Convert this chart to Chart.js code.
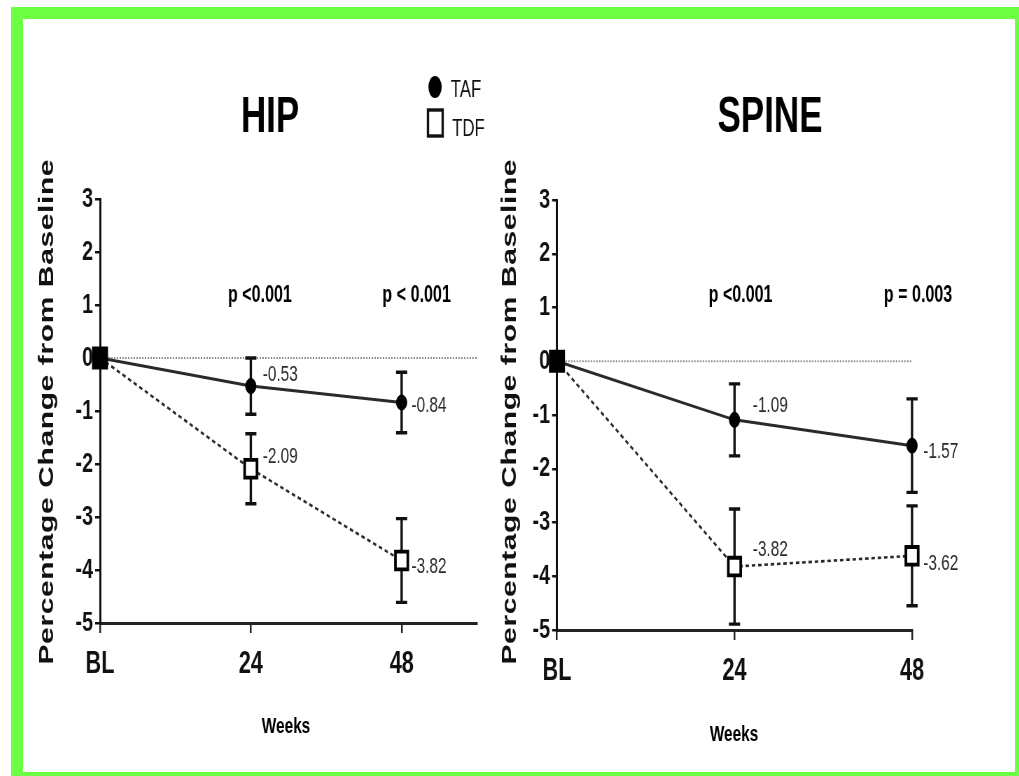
<!DOCTYPE html>
<html><head><meta charset="utf-8">
<script src="https://cdn.jsdelivr.net/npm/chart.js@4.4.1/dist/chart.umd.min.js"></script>
<style>
html,body{margin:0;padding:0;background:#fff;overflow:hidden;width:1019px;height:776px;}
canvas{position:absolute;top:0;transform-origin:0 0;transform:scaleX(0.7);}
#frame{position:absolute;left:11px;top:7px;width:992px;height:753px;border:12px solid #6cff44;pointer-events:none;z-index:5}
</style></head><body>
<canvas id="hip" width="674" height="776" style="left:23px"></canvas>
<canvas id="spine" width="750" height="776" style="left:490px"></canvas>
<div id="frame"></div>
<script>
// ---- data ----
const weeks = [0, 24, 48];
const xTickLabels = ['BL', '24', '48'];
const yTicks = [-5, -4, -3, -2, -1, 0, 1, 2, 3];
const seriesNames = ['TAF', 'TDF'];
const hipTAF = [0, -0.53, -0.84];
const hipTAFerr = [0, 0.53, 0.57];
const hipTDF = [0, -2.09, -3.82];
const hipTDFerr = [0, 0.66, 0.79];
const spineTAF = [0, -1.09, -1.57];
const spineTAFerr = [0, 0.67, 0.87];
const spineTDF = [0, -3.82, -3.62];
const spineTDFerr = [0, 1.07, 0.93];
const hipP = ['p <0.001', 'p < 0.001'];
const spineP = ['p <0.001', 'p = 0.003'];
const yTitle = 'Percentage Change from Baseline';
const xTitle = 'Weeks';

const NARROW = '"Liberation Sans Narrow", "Liberation Sans", Arial, sans-serif';
const SANS = '"Liberation Sans", Arial, sans-serif';

function txt(ctx, s, x, y, font, align, base, color, spacing) {
  ctx.save();
  ctx.font = font; ctx.textAlign = align; ctx.textBaseline = base;
  ctx.fillStyle = color || '#111';
  if (spacing !== undefined) ctx.letterSpacing = spacing + 'px';
  ctx.fillText(s, x, y);
  ctx.restore();
}

const panelPlugin = {
  id: 'panel',
  beforeDatasetsDraw(chart) {
    const ctx = chart.ctx, xs = chart.scales.x, ys = chart.scales.y, a = chart.chartArea;
    const y0 = ys.getPixelForValue(0);
    ctx.save();
    ctx.strokeStyle = '#8a8a8a'; ctx.lineWidth = 2; ctx.setLineDash([2, 2]);
    ctx.beginPath(); ctx.moveTo(a.left, y0); ctx.lineTo(a.right, y0); ctx.stroke();
    ctx.restore();
    ctx.save();
    ctx.strokeStyle = '#111'; ctx.lineWidth = 3.4;
    chart.data.datasets.forEach(ds => {
      ds.errors.forEach((e, i) => {
        if (!e) return;
        const v = ds.data[i].y;
        const x = xs.getPixelForValue(ds.data[i].x);
        const yt = ys.getPixelForValue(v + e), yb = ys.getPixelForValue(v - e);
        ctx.beginPath();
        ctx.moveTo(x, yt); ctx.lineTo(x, yb);
        ctx.moveTo(x - 8, yt); ctx.lineTo(x + 8, yt);
        ctx.moveTo(x - 8, yb); ctx.lineTo(x + 8, yb);
        ctx.stroke();
      });
    });
    ctx.restore();
  },
  afterDraw(chart) {
    const p = chart.options.plugins.panel;
    const ctx = chart.ctx, xs = chart.scales.x, ys = chart.scales.y;
    // value labels
    chart.data.datasets.forEach(ds => {
      ds.data.forEach((pt, i) => {
        const off = ds.labelOffsets[i];
        if (!off) return;
        txt(ctx, pt.y.toFixed(2), xs.getPixelForValue(pt.x) + off[0], ys.getPixelForValue(pt.y) + off[1],
          '22px ' + SANS, 'left', 'middle', '#2a2a2a');
      });
    });
    // title
    txt(ctx, p.title, p.titleX, 132, 'bold 50px ' + NARROW, 'center', 'alphabetic', '#000');
    // p-values
    p.pTexts.forEach((s, i) => {
      txt(ctx, s, xs.getPixelForValue(weeks[i + 1]) + p.pDx[i], 302, 'bold 23px ' + SANS, 'center', 'alphabetic', '#000');
    });
    // x title
    txt(ctx, xTitle, p.weeksX, p.weeksY, 'bold 22px ' + SANS, 'center', 'alphabetic', '#000');
    // y title
    ctx.save();
    ctx.font = 'bold 30px ' + SANS;
    const w = ctx.measureText(yTitle).width;
    const sp = (505 - w) / (yTitle.length - 1);
    ctx.restore();
    ctx.save();
    ctx.translate(p.yTitleX, 412);
    ctx.rotate(-Math.PI / 2);
    ctx.letterSpacing = sp + 'px';
    ctx.font = 'bold 30px ' + SANS;
    ctx.textAlign = 'left'; ctx.textBaseline = 'middle'; ctx.fillStyle = '#111';
    ctx.fillText(yTitle, -252.5, 0);
    ctx.restore();
    // legend
    if (p.legend) {
      ctx.save();
      ctx.fillStyle = '#000';
      ctx.beginPath(); ctx.ellipse(588.6, 87, 9.5, 11, 0, 0, Math.PI * 2); ctx.fill();
      ctx.strokeStyle = '#111'; ctx.lineWidth = 3.4;
      ctx.strokeRect(589 - 10.5, 123 - 13, 21, 26);
      ctx.restore();
      txt(ctx, seriesNames[0], 611, 97, '24px ' + NARROW, 'left', 'alphabetic', '#111');
      txt(ctx, seriesNames[1], 613, 136, '24px ' + NARROW, 'left', 'alphabetic', '#111');
    }
  }
};

function makeChart(id, taf, tafErr, tdf, tdfErr, cfg) {
  return new Chart(document.getElementById(id), {
    type: 'line',
    data: {
      datasets: [
        {
          label: seriesNames[1], data: weeks.map((w, i) => ({ x: w, y: tdf[i] })), errors: tdfErr,
          labelOffsets: cfg.tdfOff,
          borderColor: '#2a2a2a', borderWidth: 2.6, borderDash: [5, 4],
          pointStyle: 'rect', pointRadius: [13.5, 12.5, 12.5], pointBorderWidth: 3.8,
          pointBackgroundColor: ['#000', '#fff', '#fff'], pointBorderColor: '#000', clip: false
        },
        {
          label: seriesNames[0], data: weeks.map((w, i) => ({ x: w, y: taf[i] })), errors: tafErr,
          labelOffsets: cfg.tafOff,
          borderColor: '#2a2a2a', borderWidth: 3,
          pointStyle: 'circle', pointRadius: 7.5, pointBorderWidth: 1,
          pointBackgroundColor: '#000', pointBorderColor: '#000', clip: false
        }
      ]
    },
    options: {
      responsive: false, animation: false, devicePixelRatio: 1, events: [],
      layout: { padding: cfg.padding },
      plugins: {
        legend: { display: false }, tooltip: { enabled: false },
        panel: cfg.panel
      },
      scales: {
        x: {
          type: 'linear', min: 0, max: cfg.xMax,
          afterBuildTicks: s => { s.ticks = weeks.map(v => ({ value: v })); },
          afterFit: s => { s.height = 70; },
          ticks: {
            callback: v => xTickLabels[weeks.indexOf(v)],
            font: { family: NARROW, size: 31, weight: 'bold' }, color: '#111',
            padding: 13, maxRotation: 0, autoSkip: false
          },
          grid: { drawOnChartArea: false, drawTicks: true, tickLength: 10, color: '#222', lineWidth: 2.5 },
          border: { display: true, color: '#222', width: 3 }
        },
        y: {
          min: -5, max: 3,
          afterBuildTicks: s => { s.ticks = yTicks.map(v => ({ value: v })); },
          afterFit: s => { s.width = 50; },
          ticks: { font: { family: NARROW, size: 28, weight: 'bold' }, color: '#111', padding: 3, callback: v => String(v) },
          grid: { drawOnChartArea: false, drawTicks: true, tickLength: 7, color: '#111', lineWidth: 2.5 },
          border: { display: true, color: '#111', width: 3 }
        }
      }
    },
    plugins: [panelPlugin]
  });
}

makeChart('hip', hipTAF, hipTAFerr, hipTDF, hipTDFerr, {
  xMax: 60,
  padding: { left: 60, right: 25.4, top: 199, bottom: 83 },
  tafOff: [null, [17, -11], [14, 3]],
  tdfOff: [null, [17, -12], [14, 6]],
  panel: { title: 'HIP', titleX: 352.9, pTexts: hipP, pDx: [12.9, 21.4], weeksX: 375.7, weeksY: 733, yTitleX: 34.3, legend: true }
});
makeChart('spine', spineTAF, spineTAFerr, spineTDF, spineTDFerr, {
  xMax: 48,
  padding: { left: 45.7, right: 147.1, top: 200, bottom: 76 },
  tafOff: [null, [26, -14], [16, 6]],
  tdfOff: [null, [26, -17], [16, 8]],
  panel: { title: 'SPINE', titleX: 400, pTexts: spineP, pDx: [8.6, 8.6], weeksX: 348.6, weeksY: 741, yTitleX: 28.6, legend: false }
});
</script>
</body></html>
